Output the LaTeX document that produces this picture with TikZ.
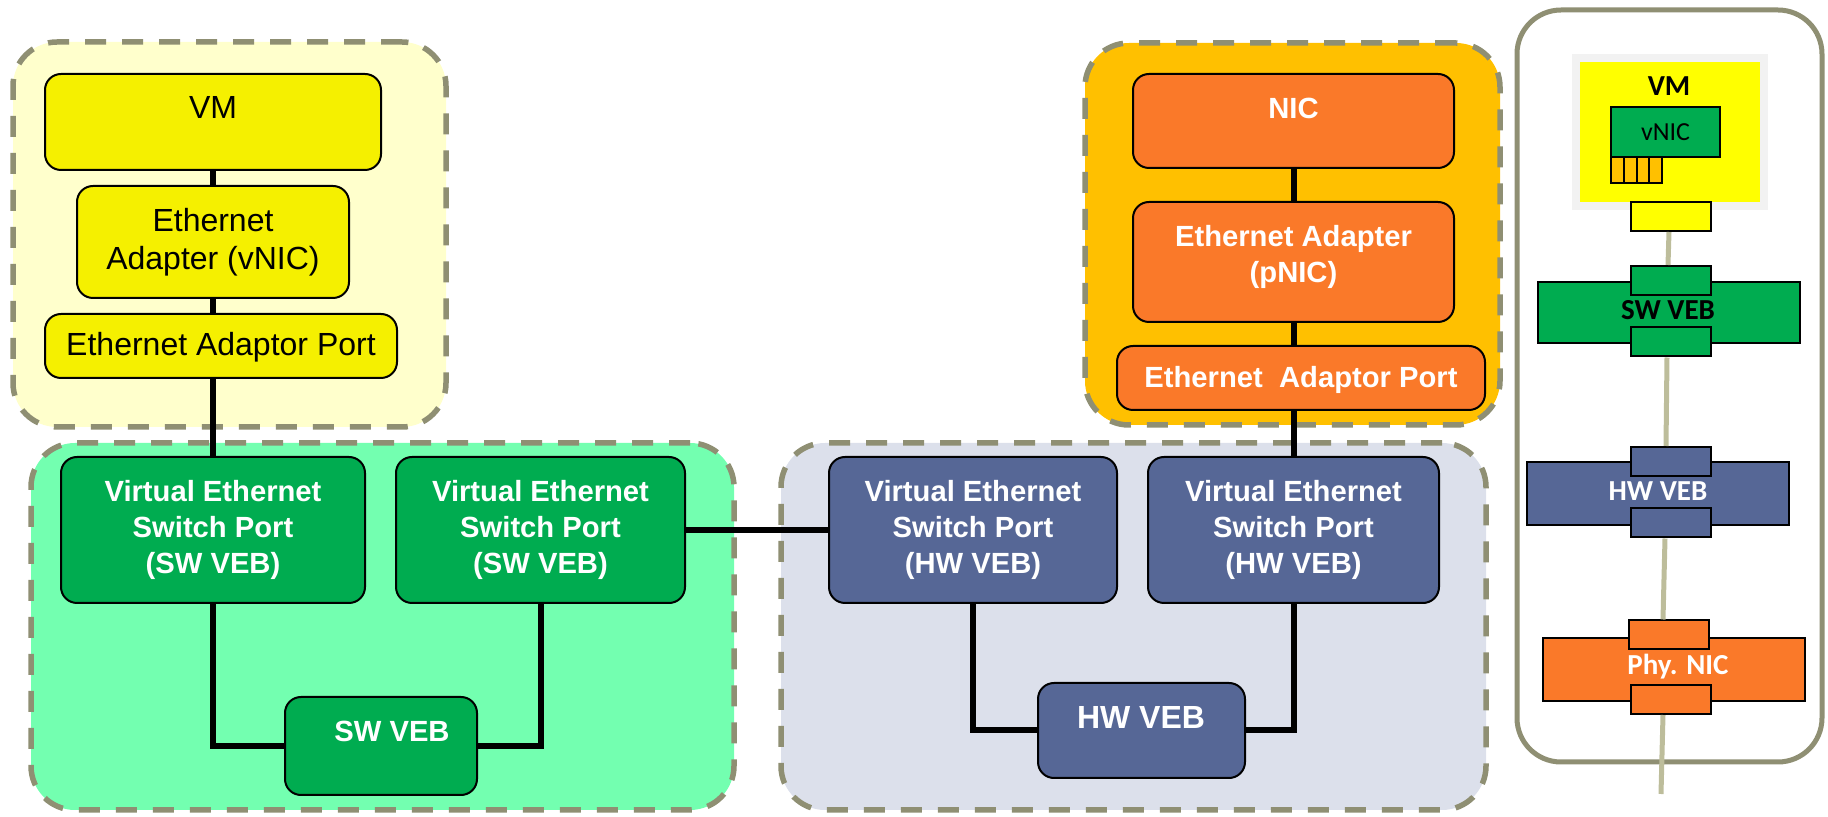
\documentclass[tikz,border=0pt]{standalone}
\usepackage{fontspec}
\setmainfont{Liberation Sans}
\newfontfamily\calibrifont{Carlito}
\usepackage{xcolor}
\definecolor{dashgrey}{HTML}{8F8F73}
\definecolor{wiregrey}{HTML}{BDBD9B}
\definecolor{vmyellow}{HTML}{F5F000}
\definecolor{paleyellow}{HTML}{FFFFCC}
\definecolor{purely}{HTML}{FFFF00}
\definecolor{vebgreen}{HTML}{00AC50}
\definecolor{palegreen}{HTML}{73FFB0}
\definecolor{hwblue}{HTML}{566796}
\definecolor{paleblue}{HTML}{DCE0EB}
\definecolor{nicorange}{HTML}{FA7929}
\definecolor{amber}{HTML}{FFC000}
\tikzset{
  boxdim/.style 2 args={minimum width=#1*0.5pt, minimum height=#2*0.5pt},
  group/.style={draw=dashgrey, line width=2.75pt, dash pattern=on 10.5pt off 8pt, rounded corners=22pt, inner sep=0pt},
  block/.style={draw=black, line width=1pt, rounded corners=8pt, align=center, inner sep=0pt, execute at begin node={\rule{0pt}{13pt}}},
  lighttext/.style={text=black, font=\fontsize{16}{19}\selectfont},
  boldtext/.style={text=white, font=\fontsize{14.6}{18}\selectfont\bfseries},
  flat/.style={draw=black, line width=1pt, inner sep=0pt},
  tag/.style={font=\fontsize{14.5}{17}\calibrifont\bfseries, inner sep=0pt},
  wire/.style={line width=3pt},
  rail/.style={draw=wiregrey, line width=2.5pt},
}
\begin{document}
\begin{tikzpicture}[x=0.5pt, y=-0.5pt]
  \useasboundingbox (0,0) rectangle (1828,817);
  % groups
  \node [group, fill=paleyellow, boxdim={433}{385}] (vmgroup) at (229.5,234.5) {};
  \node [group, fill=amber, boxdim={415}{382}] (nicgroup) at (1292.5,234) {};
  \node [group, fill=palegreen, boxdim={703}{367}] (swgroup) at (382.5,626.5) {};
  \node [group, fill=paleblue, boxdim={705}{367}] (hwgroup) at (1133.5,626.5) {};
  % VM side
  \node [block, lighttext, fill=vmyellow, boxdim={336}{96}] (vm) at (213,122) {VM\\[-5pt]};
  \node [block, lighttext, fill=vmyellow, boxdim={272}{112}] (vnicbox) at (213,242) {Ethernet\\Adapter (vNIC)};
  \node [block, lighttext, fill=vmyellow, boxdim={352}{64}] (vmport) at (221,346) {Ethernet Adaptor Port};
  % NIC side
  \node [block, boldtext, fill=nicorange, boxdim={321}{94}] (nic) at (1293.5,121) {NIC\\[-5pt]};
  \node [block, boldtext, fill=nicorange, boxdim={321}{120}] (pnicbox) at (1293.5,262) {Ethernet Adapter\\(pNIC)\\[-10pt]};
  \node [block, boldtext, fill=nicorange, boxdim={368}{64}] (nicport) at (1301,378) {Ethernet\ \ Adaptor Port};
  % switch ports
  \node [block, boldtext, fill=vebgreen, boxdim={304}{146}] (swporta) at (213,530) {Virtual Ethernet\\Switch Port\\(SW VEB)};
  \node [block, boldtext, fill=vebgreen, boxdim={289}{146}] (swportb) at (540.5,530) {Virtual Ethernet\\Switch Port\\(SW VEB)};
  \node [block, boldtext, fill=hwblue, boxdim={288}{146}] (hwporta) at (973,530) {Virtual Ethernet\\Switch Port\\(HW VEB)};
  \node [block, boldtext, fill=hwblue, boxdim={291}{146}] (hwportb) at (1293.5,530) {Virtual Ethernet\\Switch Port\\(HW VEB)};
  \node [block, boldtext, fill=vebgreen, boxdim={192}{98}] (swveb) at (381,746) {};
  \node [boldtext] (swveblabel) at (392,731) {SW VEB};
  \node [block, boldtext, fill=hwblue, boxdim={207}{95}] (hwveb) at (1141.5,730.5) {};
  \node [boldtext, font=\fontsize{16}{19}\selectfont\bfseries] (hwveblabel) at (1141,717) {HW VEB};
  % connectors
  \draw [wire] (vm) -- (vnicbox);
  \draw [wire] (vnicbox) -- (vmport.north -| vnicbox);
  \draw [wire] (vmport.south -| vnicbox) -- (swporta);
  \draw [wire] (nic) -- (pnicbox);
  \draw [wire] (pnicbox) -- (nicport.north -| pnicbox);
  \draw [wire] (nicport.south -| pnicbox) -- (hwportb);
  \draw [wire] (swportb) -- (hwporta);
  \draw [wire] (swporta.south) |- (swveb.west);
  \draw [wire] (swportb.south) |- (swveb.east);
  \draw [wire] (hwporta.south) |- (hwveb.west);
  \draw [wire] (hwportb.south) |- (hwveb.east);
  % legend
  \draw [draw=dashgrey, line width=2.5pt, rounded corners=22pt] (1517,10) rectangle (1822,762);
  \node [fill=black!5, boxdim={196}{156}] (vmshade) at (1670,132) {};
  \node [fill=purely, boxdim={180}{140}] (vmlegend) at (1670,132) {};
  \node [tag] (vmtag) at (1669,86) {VM};
  \node [flat, fill=vebgreen, boxdim={109}{50}, font=\fontsize{13}{15}\calibrifont] (vnic) at (1665.5,132) {vNIC};
  \foreach \i in {0,...,3}
    \node [flat, fill=amber, boxdim={12.75}{26}] (cell\i) at ({1617.4+\i*12.75},170) {};
  \node [flat, fill=purely, boxdim={80}{29}] (legport) at (1671,216.5) {};
  \node [flat, fill=vebgreen, boxdim={262}{61}] (legsw) at (1669,312.5) {};
  \node [flat, fill=vebgreen, boxdim={80}{29}] (legswtop) at (1671,280.5) {};
  \node [flat, fill=vebgreen, boxdim={80}{29}] (legswbot) at (1671,342) {};
  \node [tag] (legswtag) at (1668,310) {SW VEB};
  \node [flat, fill=hwblue, boxdim={262}{63}] (leghw) at (1658,493.5) {};
  \node [flat, fill=hwblue, boxdim={80}{29}] (leghwtop) at (1671,461.5) {};
  \node [flat, fill=hwblue, boxdim={80}{29}] (leghwbot) at (1671,523) {};
  \node [tag, text=white] (leghwtag) at (1658,491) {HW VEB};
  \node [flat, fill=nicorange, boxdim={262}{63}] (legnic) at (1674,669.5) {};
  \node [flat, fill=nicorange, boxdim={80}{29}] (legnictop) at (1669,635) {};
  \node [flat, fill=nicorange, boxdim={80}{29}] (legnicbot) at (1671,699.5) {};
  \node [tag, text=white] (legnictag) at (1678,667) {Phy. NIC};
  \coordinate (legend) at (1661,794);
  \draw [rail] ([xshift=-1pt]legport.south) -- ([xshift=-1.5pt]legswtop.north);
  \draw [rail] ([xshift=-2pt]legswbot.south) -- ([xshift=-2.5pt]leghwtop.north);
  \draw [rail] ([xshift=-3pt]leghwbot.south) -- ([xshift=-3pt]legnictop.north);
  \draw [rail] ([xshift=-4pt]legnicbot.south) -- (legend);
\end{tikzpicture}
\end{document}
